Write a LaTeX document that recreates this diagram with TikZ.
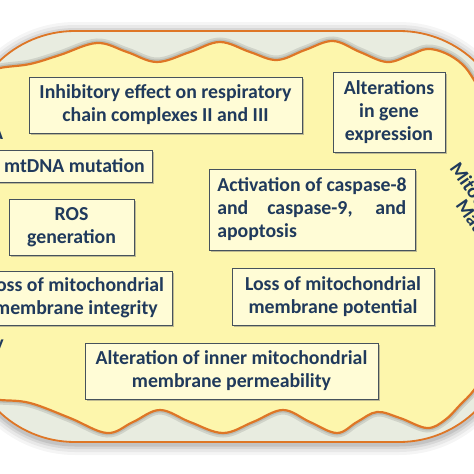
\documentclass[tikz,border=0pt]{standalone}
\usepackage{fontspec}
\setmainfont{Carlito}
\usetikzlibrary{shadows}
\definecolor{txt}{RGB}{32,58,92}
\definecolor{boxline}{RGB}{70,82,92}
\definecolor{boxfill}{RGB}{255,252,214}
\definecolor{cyto}{RGB}{253,246,172}
\definecolor{gap}{RGB}{232,236,224}
\definecolor{memb}{RGB}{222,118,38}
\begin{document}
\begin{tikzpicture}[x=1pt,y=-1pt,
  box/.style={draw=boxline, line width=1pt, fill=boxfill,
    drop shadow={shadow xshift=2pt,shadow yshift=-2pt,opacity=0.45,fill=black!55},
    font=\fontsize{19.8}{23}\selectfont\bfseries, text=txt, align=center, inner sep=0pt},
  lbl/.style={font=\fontsize{19.8}{23}\selectfont\bfseries, text=txt, inner sep=0pt},
  membline/.style={draw=memb, line width=2.2pt}]
\useasboundingbox (0,0) rectangle (474,474);
\clip (0,0) rectangle (474,474);
\fill[white] (0,0) rectangle (474,474);
% outer membrane glow
\foreach \w/\o in {22/0.04,16/0.05,10/0.07,5/0.09}
  \draw[black, line width=\w pt, opacity=\o, rounded corners=110pt] (-35,33) rectangle (509,444);
\path[fill=gap, rounded corners=110pt] (-35,31) rectangle (509,442);
\draw[membline, line width=1.8pt, rounded corners=110pt] (-35,31) rectangle (509,442);
% inner membrane
\def\innerpath{plot[smooth cycle, tension=0.6] coordinates {
 (-20,75) (0,68) (30,64) (60,55) (97,43) (127,52) (157,62) (190,52) (220,42) (250,52)
 (277,60) (305,50) (333,41) (360,52) (387,62) (410,55) (427,49) (445,53) (462,64) (474,80) (490,110)
 (505,160) (510,250) (505,330) (490,365) (474,390) (460,405) (445,420) (427,428) (400,418) (377,412)
 (357,422) (337,433) (310,422) (283,410) (253,422) (223,433) (190,422) (160,410) (133,422) (107,433)
 (70,418) (30,403) (0,400) (-20,398) (-35,340) (-38,250) (-35,140)}}
\draw[black, line width=9pt, opacity=0.10] \innerpath;
\draw[black, line width=5pt, opacity=0.10] \innerpath;
\fill[cyto] \innerpath;
\draw[membline] \innerpath;
% partial labels at the edges
\node[lbl] (la) at (-3,133) {A};
\node[lbl] (ly) at (-1,346) {y};
\node[lbl, rotate=-55, anchor=base west] (lm1) at (449,168) {Mitochondrial};
\node[lbl, rotate=-55, anchor=base west] (lm2) at (455,205) {Matrix};
% boxes
\node[box, minimum width=273pt, minimum height=56pt] (b1) at (165.5,105)
  {Inhibitory effect on respiratory\\chain complexes II and III};
\node[box, minimum width=112pt, minimum height=80pt] (b2) at (389,112)
  {Alterations\\in gene\\expression};
\node[box, minimum width=155pt, minimum height=32pt] (b3) at (74.5,166)
  {mtDNA mutation};
\node[box, minimum width=125pt, minimum height=56pt] (b4) at (71.5,227)
  {ROS\\generation};
\node[box, minimum width=192pt, minimum height=54pt] (b5) at (76,298)
  {Loss of mitochondrial\\membrane integrity};
\node[box, minimum width=206pt, minimum height=81pt, align=left] (b6) at (312,209.5)
  {Activation of caspase-8\\\makebox[189pt][s]{and caspase-9, and}\\apoptosis};
\node[box, minimum width=202pt, minimum height=57pt] (b7) at (333,296.5)
  {Loss of mitochondrial\\membrane potential};
\node[box, minimum width=293pt, minimum height=56pt] (b8) at (231.5,371)
  {Alteration of inner mitochondrial\\membrane permeability};
\end{tikzpicture}
\end{document}
